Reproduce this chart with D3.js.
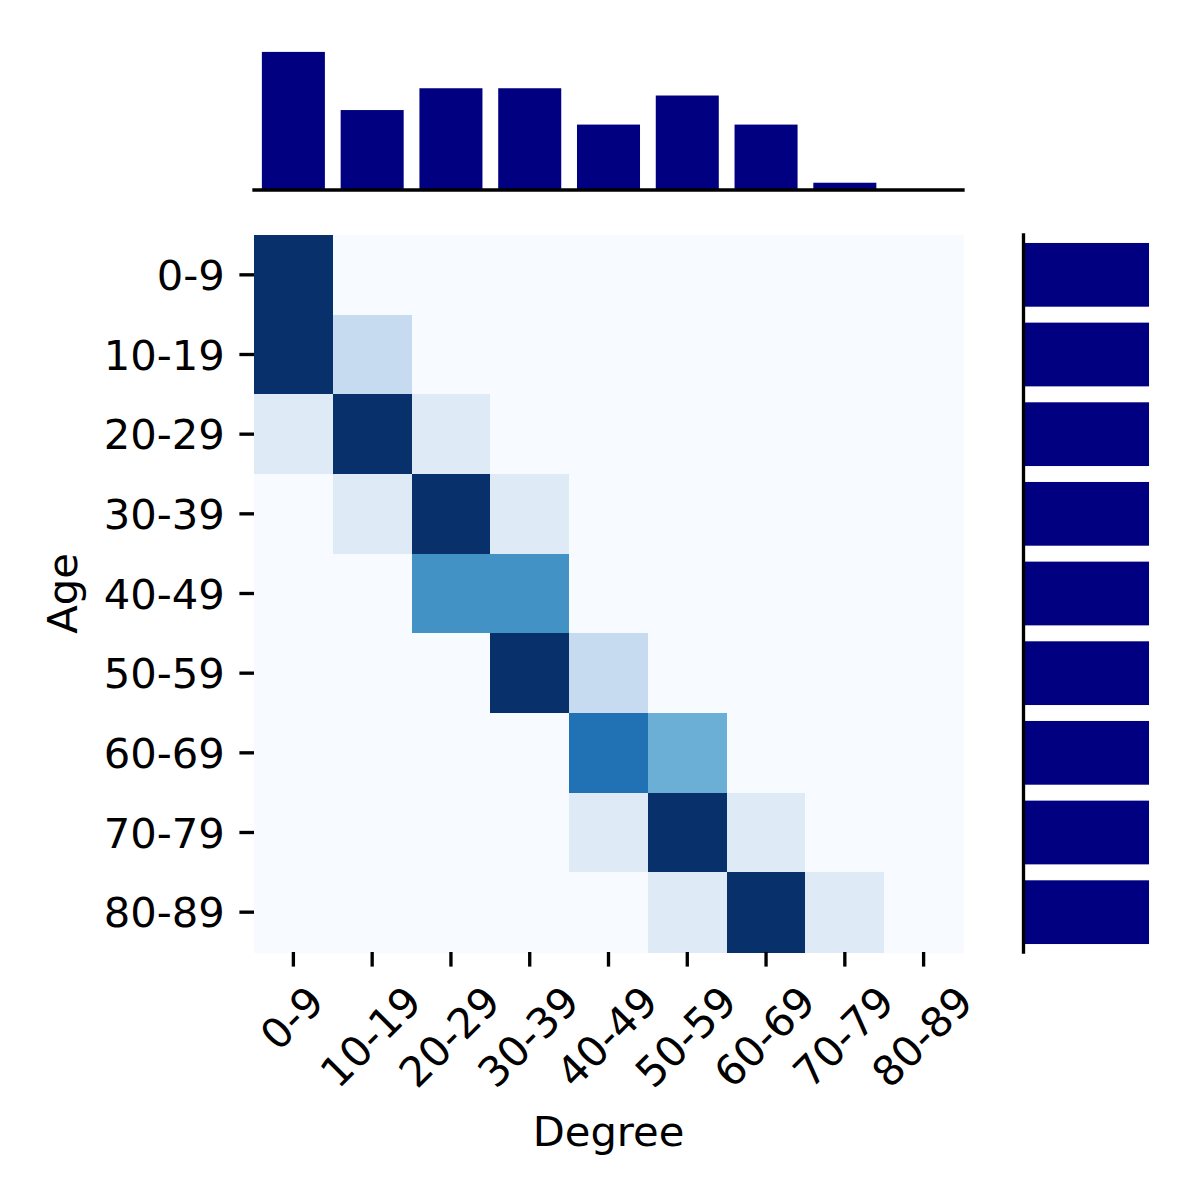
<!DOCTYPE html>
<html>
<head>
<meta charset="utf-8">
<script src="https://cdn.jsdelivr.net/npm/d3@7"></script>
<style>
  html, body { margin: 0; padding: 0; background: #fff; }
  svg { display: block; }
</style>
</head>
<body>
<svg id="chart" width="1200" height="1200"></svg>
<script>
// ---- data ----
const ageGroups = ["0-9","10-19","20-29","30-39","40-49","50-59","60-69","70-79","80-89"];
const degreeGroups = ["0-9","10-19","20-29","30-39","40-49","50-59","60-69","70-79","80-89"];
// rows = Age, columns = Degree (row percentages)
const heatValues = [
  [100, 0, 0, 0, 0, 0, 0, 0, 0],
  [80, 20, 0, 0, 0, 0, 0, 0, 0],
  [10, 80, 10, 0, 0, 0, 0, 0, 0],
  [0, 10, 80, 10, 0, 0, 0, 0, 0],
  [0, 0, 50, 50, 0, 0, 0, 0, 0],
  [0, 0, 0, 80, 20, 0, 0, 0, 0],
  [0, 0, 0, 0, 60, 40, 0, 0, 0],
  [0, 0, 0, 0, 10, 80, 10, 0, 0],
  [0, 0, 0, 0, 0, 10, 80, 10, 0]
];
const degreeTotals = [190, 110, 140, 140, 90, 130, 90, 10, 0];
const ageTotals = [100, 100, 100, 100, 100, 100, 100, 100, 100];
const colorMax = 80;
const xLabel = "Degree";
const yLabel = "Age";

// ---- layout ----
const svg = d3.select("#chart");
const FONT = "'DejaVu Sans', sans-serif";
const FS = 41.67;
const LW = 3.33;
const TICK = 14.6;
const PAD = 14.6;

const hm = {left: 254, right: 963, top: 235, bottom: 952};

const x = d3.scaleBand().domain(degreeGroups).range([hm.left, hm.right]);
const y = d3.scaleBand().domain(ageGroups).range([hm.top, hm.bottom]);

// matplotlib Blues colormap
const bluesStops = ["#f7fbff","#deebf7","#c6dbef","#9ecae1","#6baed6","#4292c6","#2171b5","#08519c","#08306b"];
const color = d3.scaleLinear()
  .domain(d3.range(9).map(i => i / 8 * colorMax))
  .range(bluesStops)
  .interpolate(d3.interpolateRgb)
  .clamp(true);

// ---- heatmap ----
const cells = [];
heatValues.forEach((row, i) => row.forEach((v, j) => cells.push({age: ageGroups[i], deg: degreeGroups[j], v})));
svg.append("g").selectAll("rect").data(cells).join("rect")
  .attr("x", d => x(d.deg))
  .attr("y", d => y(d.age))
  .attr("width", x.bandwidth() + 0.5)
  .attr("height", y.bandwidth() + 0.5)
  .attr("fill", d => color(d.v))
  .attr("shape-rendering", "crispEdges");

// y ticks and labels
const yAxis = svg.append("g");
ageGroups.forEach(a => {
  const cy = y(a) + y.bandwidth() / 2;
  yAxis.append("line")
    .attr("x1", hm.left - TICK).attr("x2", hm.left)
    .attr("y1", cy).attr("y2", cy)
    .attr("stroke", "#000").attr("stroke-width", LW);
  yAxis.append("text")
    .attr("x", hm.left - TICK - PAD)
    .attr("y", cy)
    .attr("dy", "0.36em")
    .attr("text-anchor", "end")
    .attr("font-family", FONT).attr("font-size", FS)
    .attr("fill", "#000")
    .text(a);
});

// x ticks and labels (rotated 45°, centered)
const xAxis = svg.append("g");
const labelTop = hm.bottom + TICK + PAD;
const textH = 0.97 * FS;
degreeGroups.forEach(dg => {
  const cx = x(dg) + x.bandwidth() / 2;
  xAxis.append("line")
    .attr("x1", cx).attr("x2", cx)
    .attr("y1", hm.bottom).attr("y2", hm.bottom + TICK)
    .attr("stroke", "#000").attr("stroke-width", LW);
  const t = xAxis.append("text")
    .attr("text-anchor", "middle")
    .attr("font-family", FONT).attr("font-size", FS)
    .attr("fill", "#000")
    .attr("dy", "0.3em")
    .text(dg);
  const w = t.node().getComputedTextLength();
  const cy = labelTop + (w + textH) / (2 * Math.SQRT2);
  t.attr("transform", `translate(${cx},${cy}) rotate(-45)`);
});

// axis labels
svg.append("text")
  .attr("x", (hm.left + hm.right) / 2)
  .attr("y", 1146)
  .attr("text-anchor", "middle")
  .attr("font-family", FONT).attr("font-size", FS)
  .attr("fill", "#000")
  .text(xLabel);
svg.append("text")
  .attr("transform", `translate(77,${(hm.top + hm.bottom) / 2}) rotate(-90)`)
  .attr("text-anchor", "middle")
  .attr("font-family", FONT).attr("font-size", FS)
  .attr("fill", "#000")
  .text(yLabel);

// ---- top marginal bars ----
const topBase = 190;
const yTop = d3.scaleLinear().domain([0, 199.5]).range([topBase, 45]);
svg.append("g").selectAll("rect").data(degreeGroups.map((g, i) => ({g, v: degreeTotals[i]}))).join("rect")
  .attr("x", d => x(d.g) + x.bandwidth() * 0.1)
  .attr("width", x.bandwidth() * 0.8)
  .attr("y", d => yTop(d.v))
  .attr("height", d => yTop(0) - yTop(d.v))
  .attr("fill", "#000080");
svg.append("line")
  .attr("x1", hm.left - LW / 2).attr("x2", hm.right + LW / 2)
  .attr("y1", topBase).attr("y2", topBase)
  .attr("stroke", "#000").attr("stroke-width", LW);

// ---- right marginal bars ----
const rightBase = 1023.5;
const xRight = d3.scaleLinear().domain([0, 105]).range([rightBase, rightBase + 131.8]);
svg.append("g").selectAll("rect").data(ageGroups.map((g, i) => ({g, v: ageTotals[i]}))).join("rect")
  .attr("y", d => y(d.g) + y.bandwidth() * 0.1)
  .attr("height", y.bandwidth() * 0.8)
  .attr("x", xRight(0))
  .attr("width", d => xRight(d.v) - xRight(0))
  .attr("fill", "#000080");
svg.append("line")
  .attr("x1", rightBase).attr("x2", rightBase)
  .attr("y1", hm.top - LW / 2).attr("y2", hm.bottom + LW / 2)
  .attr("stroke", "#000").attr("stroke-width", LW);
</script>
</body>
</html>
